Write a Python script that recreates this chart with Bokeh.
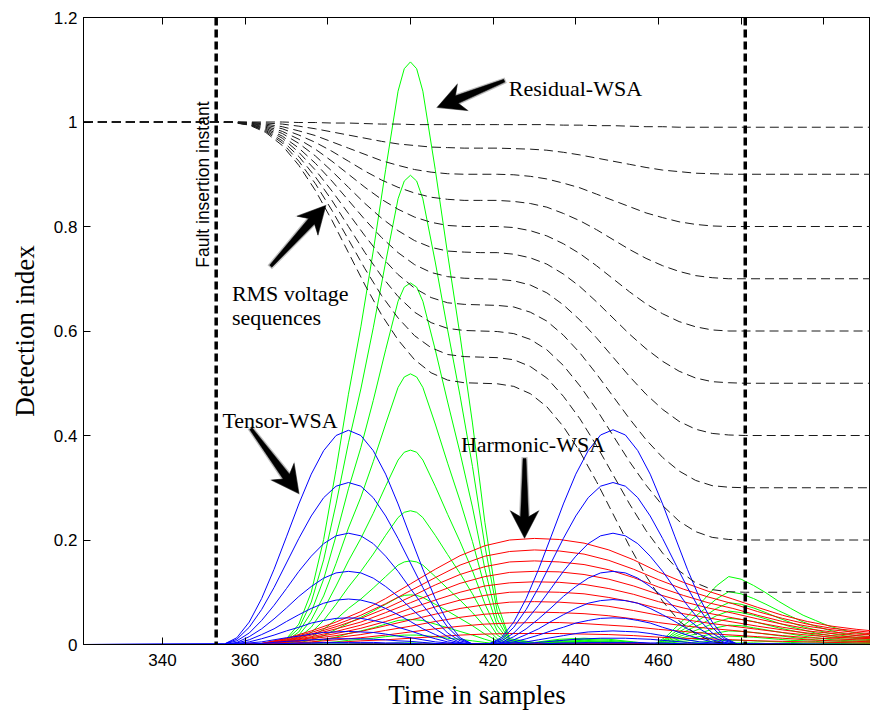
import math

from bokeh.embed import file_html
from bokeh.models import FixedTicker, Label, LinearAxis, NumeralTickFormatter, Range1d, Span
from bokeh.plotting import figure
from bokeh.resources import INLINE

# ---------------------------------------------------------------------------
# Sample axis and event instants
# ---------------------------------------------------------------------------
fault_start = 353
fault_window_end = 481

x_ticks = [340, 360, 380, 400, 420, 440, 460, 480, 500]
y_ticks = [0, 0.2, 0.4, 0.6, 0.8, 1.0, 1.2]

# ---------------------------------------------------------------------------
# RMS voltage sequences (one per sag depth)
# ---------------------------------------------------------------------------
t_rms = [321, 353, 357, 361, 365, 369, 373, 377, 381, 385, 389, 393, 397, 401,
         405, 409, 413, 417, 421, 425, 429, 433, 437, 441, 445, 449, 453, 457,
         461, 465, 469, 473, 477, 481, 512]

rms_099 = [1.0, 1.0, 1.0, 1.0, 1.0, 1.0, 0.999, 0.999, 0.998, 0.998, 0.997, 0.996,
           0.996, 0.995, 0.995, 0.995, 0.995, 0.995, 0.995, 0.995, 0.995, 0.995,
           0.994, 0.994, 0.993, 0.993, 0.992, 0.991, 0.991, 0.99, 0.99, 0.99, 0.99,
           0.99, 0.99]
rms_090 = [1.0, 1.0, 1.0, 0.999, 0.998, 0.996, 0.992, 0.987, 0.981, 0.975, 0.969,
           0.963, 0.958, 0.955, 0.952, 0.951, 0.95, 0.95, 0.95, 0.949, 0.948, 0.946,
           0.942, 0.937, 0.931, 0.925, 0.919, 0.913, 0.908, 0.905, 0.902, 0.901,
           0.9, 0.9, 0.9]
rms_080 = [1.0, 1.0, 1.0, 0.999, 0.996, 0.991, 0.983, 0.974, 0.962, 0.95, 0.938,
           0.926, 0.917, 0.909, 0.904, 0.901, 0.9, 0.9, 0.9, 0.899, 0.896, 0.891,
           0.883, 0.874, 0.862, 0.85, 0.838, 0.826, 0.817, 0.809, 0.804, 0.801,
           0.8, 0.8, 0.8]
rms_070 = [1.0, 1.0, 1.0, 0.998, 0.994, 0.987, 0.975, 0.961, 0.944, 0.925, 0.906,
           0.889, 0.875, 0.864, 0.856, 0.852, 0.85, 0.85, 0.85, 0.848, 0.844, 0.837,
           0.825, 0.811, 0.794, 0.775, 0.756, 0.739, 0.725, 0.714, 0.706, 0.702,
           0.7, 0.7, 0.7]
rms_060 = [1.0, 1.0, 1.0, 0.998, 0.992, 0.982, 0.967, 0.948, 0.925, 0.9, 0.875,
           0.852, 0.833, 0.818, 0.808, 0.802, 0.8, 0.8, 0.8, 0.798, 0.792, 0.782,
           0.767, 0.748, 0.725, 0.7, 0.675, 0.652, 0.633, 0.618, 0.608, 0.602,
           0.6, 0.6, 0.6]
rms_050 = [1.0, 1.0, 1.0, 0.997, 0.99, 0.978, 0.959, 0.935, 0.906, 0.875, 0.844,
           0.816, 0.792, 0.773, 0.76, 0.753, 0.751, 0.75, 0.75, 0.747, 0.74, 0.728,
           0.709, 0.685, 0.656, 0.625, 0.594, 0.566, 0.542, 0.523, 0.51, 0.503,
           0.501, 0.5, 0.5]
rms_040 = [1.0, 1.0, 0.999, 0.996, 0.988, 0.973, 0.95, 0.921, 0.887, 0.85, 0.813,
           0.779, 0.75, 0.727, 0.712, 0.704, 0.701, 0.7, 0.699, 0.696, 0.688, 0.673,
           0.65, 0.621, 0.587, 0.55, 0.513, 0.479, 0.45, 0.427, 0.412, 0.404,
           0.401, 0.4, 0.4]
rms_030 = [1.0, 1.0, 0.999, 0.996, 0.986, 0.969, 0.942, 0.908, 0.868, 0.825, 0.782,
           0.742, 0.708, 0.682, 0.664, 0.654, 0.651, 0.65, 0.649, 0.646, 0.636,
           0.619, 0.592, 0.558, 0.518, 0.475, 0.432, 0.392, 0.358, 0.332, 0.314,
           0.304, 0.301, 0.3, 0.3]
rms_020 = [1.0, 1.0, 0.999, 0.995, 0.984, 0.964, 0.934, 0.895, 0.85, 0.8, 0.75,
           0.705, 0.666, 0.636, 0.616, 0.605, 0.601, 0.6, 0.599, 0.595, 0.584,
           0.564, 0.534, 0.495, 0.45, 0.4, 0.35, 0.305, 0.266, 0.236, 0.216,
           0.205, 0.201, 0.2, 0.2]
rms_010 = [1.0, 1.0, 0.999, 0.995, 0.982, 0.96, 0.925, 0.882, 0.831, 0.775, 0.719,
           0.668, 0.625, 0.591, 0.568, 0.555, 0.551, 0.55, 0.549, 0.545, 0.532,
           0.51, 0.475, 0.432, 0.381, 0.325, 0.269, 0.218, 0.175, 0.141, 0.118,
           0.105, 0.101, 0.1, 0.1]
rms_000 = [1.0, 1.0, 0.999, 0.994, 0.98, 0.955, 0.917, 0.869, 0.812, 0.75, 0.688,
           0.631, 0.583, 0.545, 0.52, 0.506, 0.501, 0.5, 0.499, 0.494, 0.48, 0.455,
           0.417, 0.369, 0.312, 0.25, 0.188, 0.131, 0.083, 0.045, 0.02, 0.006,
           0.001, 0.0, 0.0]

rms_curves = [rms_099, rms_090, rms_080, rms_070, rms_060, rms_050,
              rms_040, rms_030, rms_020, rms_010, rms_000]

# ---------------------------------------------------------------------------
# Tensor-WSA detection index (two lobes per sag depth)
# ---------------------------------------------------------------------------
t_tensor = [321, 355, 358, 361, 364, 367, 370, 373, 376, 379, 382, 385, 388, 391,
            394, 397, 400, 403, 406, 409, 412, 415, 419, 422, 425, 428, 431, 434,
            437, 440, 443, 446, 449, 452, 455, 458, 461, 464, 467, 470, 473, 476,
            479, 512]

tensor_1 = [0.0,
            0.001, 0.013, 0.043, 0.088, 0.144, 0.206, 0.269, 0.326, 0.371, 0.4, 0.41,
            0.4, 0.371, 0.326, 0.269, 0.206, 0.144, 0.088, 0.043, 0.013, 0.001,
            0.001, 0.013, 0.043, 0.088, 0.144, 0.206, 0.269, 0.326, 0.371, 0.401, 0.411,
            0.401, 0.371, 0.326, 0.269, 0.206, 0.144, 0.088, 0.043, 0.013, 0.001,
            0.0]
tensor_2 = [0.0,
            0.001, 0.01, 0.033, 0.067, 0.109, 0.156, 0.203, 0.246, 0.281, 0.303, 0.31,
            0.303, 0.281, 0.246, 0.203, 0.156, 0.109, 0.067, 0.033, 0.01, 0.001,
            0.001, 0.01, 0.033, 0.067, 0.109, 0.156, 0.203, 0.246, 0.281, 0.303, 0.31,
            0.303, 0.281, 0.246, 0.203, 0.156, 0.109, 0.067, 0.033, 0.01, 0.001,
            0.0]
tensor_3 = [0.0,
            0.001, 0.007, 0.022, 0.046, 0.075, 0.107, 0.14, 0.169, 0.193, 0.208, 0.213,
            0.208, 0.193, 0.169, 0.14, 0.107, 0.075, 0.046, 0.022, 0.007, 0.001,
            0.001, 0.007, 0.022, 0.046, 0.075, 0.107, 0.14, 0.169, 0.193, 0.208, 0.213,
            0.208, 0.193, 0.169, 0.14, 0.107, 0.075, 0.046, 0.022, 0.007, 0.001,
            0.0]
tensor_4 = [0.0,
            0.0, 0.004, 0.015, 0.03, 0.049, 0.07, 0.092, 0.111, 0.127, 0.137, 0.14,
            0.137, 0.127, 0.111, 0.092, 0.07, 0.049, 0.03, 0.015, 0.004, 0.0,
            0.0, 0.004, 0.015, 0.03, 0.049, 0.07, 0.092, 0.111, 0.127, 0.137, 0.14,
            0.137, 0.127, 0.111, 0.092, 0.07, 0.049, 0.03, 0.015, 0.004, 0.0,
            0.0]
tensor_5 = [0.0,
            0.0, 0.003, 0.009, 0.019, 0.03, 0.044, 0.057, 0.069, 0.079, 0.085, 0.087,
            0.085, 0.079, 0.069, 0.057, 0.044, 0.03, 0.019, 0.009, 0.003, 0.0,
            0.0, 0.003, 0.009, 0.019, 0.03, 0.044, 0.057, 0.069, 0.079, 0.084, 0.086,
            0.084, 0.079, 0.069, 0.057, 0.044, 0.03, 0.019, 0.009, 0.003, 0.0,
            0.0]
tensor_6 = [0.0,
            0.0, 0.002, 0.005, 0.011, 0.018, 0.026, 0.033, 0.041, 0.046, 0.05, 0.051,
            0.05, 0.046, 0.041, 0.033, 0.026, 0.018, 0.011, 0.005, 0.002, 0.0,
            0.0, 0.002, 0.005, 0.011, 0.018, 0.026, 0.033, 0.041, 0.046, 0.05, 0.051,
            0.05, 0.046, 0.041, 0.033, 0.026, 0.018, 0.011, 0.005, 0.002, 0.0,
            0.0]
tensor_7 = [0.0,
            0.0, 0.001, 0.003, 0.005, 0.009, 0.013, 0.016, 0.02, 0.023, 0.024, 0.025,
            0.024, 0.023, 0.02, 0.016, 0.013, 0.009, 0.005, 0.003, 0.001, 0.0,
            0.0, 0.001, 0.003, 0.005, 0.009, 0.013, 0.017, 0.021, 0.024, 0.025, 0.026,
            0.025, 0.024, 0.021, 0.017, 0.013, 0.009, 0.005, 0.003, 0.001, 0.0,
            0.0]
tensor_8 = [0.0,
            0.0, 0.0, 0.001, 0.002, 0.004, 0.006, 0.007, 0.009, 0.01, 0.011, 0.011,
            0.011, 0.01, 0.009, 0.007, 0.006, 0.004, 0.002, 0.001, 0.0, 0.0,
            0.0, 0.0, 0.001, 0.002, 0.004, 0.006, 0.008, 0.01, 0.011, 0.012, 0.012,
            0.012, 0.011, 0.01, 0.008, 0.006, 0.004, 0.002, 0.001, 0.0, 0.0,
            0.0]
tensor_9 = [0.0,
            0.0, 0.0, 0.0, 0.001, 0.001, 0.002, 0.003, 0.003, 0.004, 0.004, 0.004,
            0.004, 0.004, 0.003, 0.003, 0.002, 0.001, 0.001, 0.0, 0.0, 0.0,
            0.0, 0.0, 0.0, 0.001, 0.001, 0.002, 0.003, 0.003, 0.004, 0.004, 0.004,
            0.004, 0.004, 0.003, 0.003, 0.002, 0.001, 0.001, 0.0, 0.0, 0.0,
            0.0]
tensor_10 = [0.0,
             0.0, 0.0, 0.0, 0.0, 0.0, 0.001, 0.001, 0.001, 0.001, 0.001, 0.001,
             0.001, 0.001, 0.001, 0.001, 0.001, 0.0, 0.0, 0.0, 0.0, 0.0,
             0.0, 0.0, 0.0, 0.0, 0.0, 0.001, 0.001, 0.001, 0.001, 0.001, 0.001,
             0.001, 0.001, 0.001, 0.001, 0.001, 0.0, 0.0, 0.0, 0.0, 0.0,
             0.0]

tensor_curves = [tensor_1, tensor_2, tensor_3, tensor_4, tensor_5,
                 tensor_6, tensor_7, tensor_8, tensor_9, tensor_10]

# ---------------------------------------------------------------------------
# Residual-WSA detection index
# ---------------------------------------------------------------------------
t_residual = [321, 364, 367, 370, 373, 376, 379, 382, 385, 388, 391, 394, 397, 398.5,
              400, 401.5, 403, 406, 409, 412, 415, 418, 421, 424, 430, 436, 442, 448,
              454, 459, 462, 465, 468, 471, 474, 477, 480, 483, 486, 489, 492, 495,
              498, 501, 504, 507, 510, 512]

residual_1 = [0.0, 0.0, 0.0,
              0.011, 0.039, 0.1, 0.201, 0.335, 0.479, 0.608, 0.753, 0.909, 1.059, 1.102,
              1.115, 1.102,
              1.059, 0.909, 0.747, 0.591, 0.424, 0.234, 0.078, 0.011,
              0.004, 0.01, 0.012, 0.01, 0.005,
              0.0, 0.016, 0.039, 0.062, 0.086, 0.112, 0.13, 0.125, 0.113, 0.099, 0.083,
              0.069, 0.056, 0.046, 0.036, 0.029, 0.023, 0.02, 0.018]
residual_2 = [0.0, 0.0, 0.0,
              0.009, 0.031, 0.081, 0.162, 0.269, 0.386, 0.489, 0.606, 0.732, 0.853, 0.887,
              0.898, 0.887,
              0.853, 0.732, 0.602, 0.476, 0.341, 0.189, 0.063, 0.009,
              0.003, 0.008, 0.01, 0.008, 0.004,
              0.0, 0.012, 0.03, 0.048, 0.067, 0.087, 0.101, 0.097, 0.088, 0.077, 0.065,
              0.054, 0.043, 0.035, 0.028, 0.022, 0.018, 0.015, 0.014]
residual_3 = [0.0, 0.0, 0.0,
              0.007, 0.024, 0.062, 0.125, 0.208, 0.298, 0.377, 0.467, 0.564, 0.657, 0.684,
              0.692, 0.684,
              0.657, 0.564, 0.464, 0.367, 0.263, 0.145, 0.048, 0.007,
              0.002, 0.006, 0.008, 0.006, 0.003,
              0.0, 0.01, 0.024, 0.038, 0.053, 0.069, 0.08, 0.077, 0.07, 0.061, 0.051,
              0.042, 0.034, 0.028, 0.022, 0.018, 0.014, 0.012, 0.011]
residual_4 = [0.0, 0.0, 0.0,
              0.005, 0.018, 0.047, 0.093, 0.155, 0.223, 0.282, 0.35, 0.422, 0.492, 0.512,
              0.518, 0.512,
              0.492, 0.422, 0.347, 0.275, 0.197, 0.109, 0.036, 0.005,
              0.002, 0.005, 0.006, 0.005, 0.002,
              0.0, 0.008, 0.019, 0.031, 0.042, 0.055, 0.064, 0.061, 0.056, 0.049, 0.041,
              0.034, 0.028, 0.022, 0.018, 0.014, 0.012, 0.01, 0.009]
residual_5 = [0.0, 0.0, 0.0,
              0.004, 0.013, 0.033, 0.067, 0.112, 0.16, 0.203, 0.251, 0.303, 0.353, 0.368,
              0.372, 0.368,
              0.353, 0.303, 0.249, 0.197, 0.141, 0.078, 0.026, 0.004,
              0.002, 0.004, 0.005, 0.004, 0.002,
              0.0, 0.006, 0.015, 0.024, 0.033, 0.043, 0.05, 0.048, 0.044, 0.038, 0.032,
              0.027, 0.022, 0.018, 0.014, 0.011, 0.009, 0.008, 0.007]
residual_6 = [0.0, 0.0, 0.0,
              0.003, 0.009, 0.023, 0.046, 0.077, 0.11, 0.14, 0.173, 0.209, 0.243, 0.253,
              0.256, 0.253,
              0.243, 0.209, 0.172, 0.136, 0.097, 0.054, 0.018, 0.003,
              0.001, 0.003, 0.004, 0.003, 0.002,
              0.0, 0.004, 0.011, 0.018, 0.024, 0.032, 0.037, 0.036, 0.032, 0.028, 0.024,
              0.02, 0.016, 0.013, 0.01, 0.008, 0.007, 0.006, 0.005]
residual_7 = [0.0, 0.0, 0.0,
              0.002, 0.006, 0.014, 0.029, 0.048, 0.069, 0.087, 0.108, 0.13, 0.152, 0.158,
              0.16, 0.158,
              0.152, 0.13, 0.107, 0.085, 0.061, 0.034, 0.011, 0.002,
              0.001, 0.002, 0.003, 0.002, 0.001,
              0.0, 0.003, 0.008, 0.012, 0.017, 0.022, 0.026, 0.025, 0.023, 0.02, 0.017,
              0.014, 0.011, 0.009, 0.007, 0.006, 0.005, 0.004, 0.004]
residual_8 = [0.0, 0.0, 0.0,
              0.001, 0.003, 0.009, 0.017, 0.029, 0.041, 0.052, 0.064, 0.077, 0.09, 0.094,
              0.095, 0.094,
              0.09, 0.077, 0.064, 0.05, 0.036, 0.02, 0.007, 0.001,
              0.001, 0.002, 0.002, 0.002, 0.001,
              0.0, 0.002, 0.005, 0.008, 0.011, 0.014, 0.016, 0.015, 0.014, 0.012, 0.01,
              0.008, 0.007, 0.006, 0.004, 0.004, 0.003, 0.002, 0.002]
residual_9 = [0.0, 0.0, 0.0,
              0.0, 0.002, 0.004, 0.009, 0.014, 0.021, 0.026, 0.032, 0.039, 0.046, 0.047,
              0.048, 0.047,
              0.046, 0.039, 0.032, 0.025, 0.018, 0.01, 0.003, 0.0,
              0.0, 0.001, 0.001, 0.001, 0.0,
              0.0, 0.001, 0.002, 0.004, 0.005, 0.007, 0.008, 0.008, 0.007, 0.006, 0.005,
              0.004, 0.003, 0.003, 0.002, 0.002, 0.001, 0.001, 0.001]
residual_10 = [0.0, 0.0, 0.0,
               0.0, 0.001, 0.002, 0.003, 0.005, 0.008, 0.01, 0.012, 0.015, 0.017, 0.018,
               0.018, 0.018,
               0.017, 0.015, 0.012, 0.01, 0.007, 0.004, 0.001, 0.0,
               0.0, 0.0, 0.001, 0.0, 0.0,
               0.0, 0.0, 0.001, 0.001, 0.002, 0.003, 0.003, 0.003, 0.003, 0.002, 0.002,
               0.002, 0.001, 0.001, 0.001, 0.001, 0.001, 0.0, 0.0]
residual_11 = [0.0, 0.0, 0.0,
               0.0, 0.0, 0.0, 0.001, 0.001, 0.001, 0.002, 0.002, 0.002, 0.003, 0.003,
               0.003, 0.003,
               0.003, 0.002, 0.002, 0.002, 0.001, 0.001, 0.0, 0.0,
               0.0, 0.0, 0.0, 0.0, 0.0,
               0.0, 0.0, 0.0, 0.0, 0.0, 0.001, 0.001, 0.001, 0.001, 0.0, 0.0,
               0.0, 0.0, 0.0, 0.0, 0.0, 0.0, 0.0, 0.0]

residual_curves = [residual_1, residual_2, residual_3, residual_4, residual_5, residual_6,
                   residual_7, residual_8, residual_9, residual_10, residual_11]

# ---------------------------------------------------------------------------
# Harmonic-WSA detection index
# ---------------------------------------------------------------------------
t_harmonic = [321, 358, 364, 370, 376, 382, 388, 394, 400, 406, 412, 418, 424, 430,
              436, 442, 448, 454, 460, 466, 472, 478, 484, 490, 496, 502, 508, 512]

harmonic_1 = [0.0, 0.0, 0.002, 0.012, 0.026, 0.043, 0.063, 0.088, 0.116, 0.144, 0.17,
              0.189, 0.2, 0.203, 0.201, 0.194, 0.181, 0.162, 0.139, 0.119, 0.102,
              0.087, 0.071, 0.056, 0.044, 0.035, 0.029, 0.026]
harmonic_2 = [0.0, 0.0, 0.002, 0.011, 0.023, 0.038, 0.056, 0.078, 0.103, 0.128, 0.152,
              0.169, 0.178, 0.181, 0.179, 0.173, 0.161, 0.144, 0.124, 0.106, 0.091,
              0.078, 0.063, 0.05, 0.039, 0.031, 0.026, 0.023]
harmonic_3 = [0.0, 0.0, 0.002, 0.009, 0.02, 0.034, 0.05, 0.069, 0.091, 0.114, 0.134,
              0.149, 0.158, 0.16, 0.158, 0.153, 0.143, 0.128, 0.11, 0.094, 0.08,
              0.069, 0.056, 0.044, 0.035, 0.028, 0.023, 0.02]
harmonic_4 = [0.0, 0.0, 0.001, 0.008, 0.018, 0.03, 0.043, 0.061, 0.08, 0.099, 0.117,
              0.13, 0.138, 0.14, 0.139, 0.134, 0.125, 0.112, 0.096, 0.082, 0.07,
              0.06, 0.049, 0.039, 0.03, 0.024, 0.02, 0.018]
harmonic_5 = [0.0, 0.0, 0.001, 0.007, 0.015, 0.025, 0.037, 0.052, 0.069, 0.085, 0.1,
              0.112, 0.118, 0.12, 0.119, 0.115, 0.107, 0.096, 0.082, 0.07, 0.06,
              0.051, 0.042, 0.033, 0.026, 0.021, 0.017, 0.015]
harmonic_6 = [0.0, 0.0, 0.001, 0.006, 0.013, 0.021, 0.031, 0.044, 0.058, 0.072, 0.085,
              0.094, 0.1, 0.101, 0.1, 0.097, 0.09, 0.081, 0.069, 0.059, 0.051,
              0.043, 0.035, 0.028, 0.022, 0.017, 0.014, 0.013]
harmonic_7 = [0.0, 0.0, 0.001, 0.005, 0.011, 0.017, 0.025, 0.036, 0.047, 0.058, 0.069,
              0.076, 0.081, 0.082, 0.081, 0.078, 0.073, 0.065, 0.056, 0.048, 0.041,
              0.035, 0.029, 0.023, 0.018, 0.014, 0.012, 0.011]
harmonic_8 = [0.0, 0.0, 0.001, 0.004, 0.008, 0.013, 0.019, 0.027, 0.035, 0.044, 0.052,
              0.058, 0.061, 0.062, 0.061, 0.059, 0.055, 0.049, 0.042, 0.036, 0.031,
              0.027, 0.022, 0.017, 0.013, 0.011, 0.009, 0.008]
harmonic_9 = [0.0, 0.0, 0.0, 0.002, 0.005, 0.009, 0.013, 0.018, 0.024, 0.03, 0.035,
              0.039, 0.041, 0.042, 0.042, 0.04, 0.037, 0.034, 0.029, 0.025, 0.021,
              0.018, 0.015, 0.012, 0.009, 0.007, 0.006, 0.005]
harmonic_10 = [0.0, 0.0, 0.0, 0.001, 0.003, 0.004, 0.007, 0.009, 0.012, 0.015, 0.018,
               0.02, 0.021, 0.021, 0.021, 0.02, 0.019, 0.017, 0.014, 0.012, 0.011,
               0.009, 0.007, 0.006, 0.005, 0.004, 0.003, 0.003]
harmonic_11 = [0.0, 0.0, 0.0, 0.0, 0.0, 0.0, 0.001, 0.001, 0.001, 0.001, 0.002,
               0.002, 0.002, 0.002, 0.002, 0.002, 0.002, 0.002, 0.001, 0.001, 0.001,
               0.001, 0.001, 0.001, 0.0, 0.0, 0.0, 0.0]

harmonic_curves = [harmonic_1, harmonic_2, harmonic_3, harmonic_4, harmonic_5, harmonic_6,
                   harmonic_7, harmonic_8, harmonic_9, harmonic_10, harmonic_11]

# ---------------------------------------------------------------------------
# Annotation anchors (data units)
# ---------------------------------------------------------------------------
note_text = ["Residual-WSA", "Tensor-WSA", "Harmonic-WSA", "RMS voltage", "sequences"]
note_x = [423.8, 354.5, 412.2, 356.8, 356.8]
note_y = [1.065, 0.428, 0.3835, 0.671, 0.626]

arrow_tail_x = [422.7, 366.2, 361.4, 427.6]
arrow_tail_y = [1.079, 0.724, 0.413, 0.356]
arrow_tip_x = [406.5, 379.5, 373.0, 427.6]
arrow_tip_y = [1.028, 0.840, 0.289, 0.204]

fault_label = "Fault insertion instant"
fault_label_x = 349.9
fault_label_y = 0.721

for grid, family in ((t_rms, rms_curves), (t_tensor, tensor_curves),
                     (t_residual, residual_curves), (t_harmonic, harmonic_curves)):
    for curve in family:
        assert len(curve) == len(grid), (len(curve), len(grid))

# ---------------------------------------------------------------------------
# Figure
# ---------------------------------------------------------------------------
W, H = 870, 718
LEFT, RIGHT, TOP, BOTTOM = 83, 0, 17, 74
X0, X1 = 320.9, 511.3
Y0, Y1 = 0.0, 1.2

p = figure(width=W, height=H, x_range=Range1d(X0, X1), y_range=Range1d(Y0, Y1),
           output_backend="svg", toolbar_location=None,
           min_border_left=LEFT, min_border_right=RIGHT,
           min_border_top=TOP, min_border_bottom=BOTTOM,
           background_fill_color="white", border_fill_color="white")
p.xgrid.visible = False
p.ygrid.visible = False
p.outline_line_color = "black"
p.outline_line_width = 1

TICK_FONT = "Liberation Sans"
SERIF = "Liberation Serif"


def style_axis(ax):
    ax.axis_line_color = "black"
    ax.axis_line_width = 1
    ax.major_tick_line_color = "black"
    ax.major_tick_in = 7
    ax.major_tick_out = 0
    ax.minor_tick_in = 0
    ax.minor_tick_out = 0
    ax.minor_tick_line_color = None
    ax.major_label_text_font = TICK_FONT
    ax.major_label_text_font_size = "17px"
    ax.major_label_text_color = "black"
    ax.axis_label_text_font = SERIF
    ax.axis_label_text_font_size = "27px"
    ax.axis_label_text_font_style = "normal"
    ax.axis_label_text_color = "black"


xaxis = p.xaxis[0]
yaxis = p.yaxis[0]
style_axis(xaxis)
style_axis(yaxis)
xaxis.ticker = FixedTicker(ticks=x_ticks)
yaxis.ticker = FixedTicker(ticks=y_ticks)
yaxis.formatter = NumeralTickFormatter(format="0.[0]")
xaxis.axis_label = "Time in samples"
yaxis.axis_label = "Detection index"
xaxis.major_label_standoff = 9
yaxis.major_label_standoff = 6
xaxis.axis_label_standoff = 11
yaxis.axis_label_standoff = 11

# Box top edge with inward ticks only
top_axis = LinearAxis(ticker=FixedTicker(ticks=x_ticks))
style_axis(top_axis)
top_axis.major_label_text_color = None
top_axis.major_label_text_font_size = "1px"
top_axis.major_label_standoff = 0
p.add_layout(top_axis, "above")

# Detection-index families
p.multi_line(xs=[t_residual] * len(residual_curves), ys=residual_curves,
             line_color="#00ff00", line_width=1)
p.multi_line(xs=[t_harmonic] * len(harmonic_curves), ys=harmonic_curves,
             line_color="#ff0000", line_width=1)
p.multi_line(xs=[t_tensor] * len(tensor_curves), ys=tensor_curves,
             line_color="#0000ff", line_width=1)

# RMS voltage sequences
p.multi_line(xs=[t_rms] * len(rms_curves), ys=rms_curves,
             line_color="#1a1a1a", line_width=1, line_dash="9 5")

# Fault insertion instant and end of the first post-fault cycle
for loc in (fault_start, fault_window_end):
    p.add_layout(Span(location=loc, dimension="height", line_color="black",
                      line_width=3.5, line_dash="8 4"))

# Arrows, built in screen proportions and mapped back to data units
sx = (W - LEFT - RIGHT) / (X1 - X0)
sy = (H - TOP - BOTTOM) / (Y1 - Y0)


def arrow_shape(x_tail, y_tail, x_tip, y_tip, head_len=27.0, head_w=28.0,
                neck_w=8.0, tail_w=3.0, grow=0.0):
    ax_, ay_ = x_tail * sx, y_tail * sy
    bx_, by_ = x_tip * sx, y_tip * sy
    dx, dy = bx_ - ax_, by_ - ay_
    length = math.hypot(dx, dy)
    ux, uy = dx / length, dy / length
    nx, ny = -uy, ux
    hl = head_len + grow
    hw = head_w / 2 + grow
    nw = neck_w / 2 + grow
    tw = tail_w / 2 + grow
    tipx, tipy = bx_ + ux * grow, by_ + uy * grow
    nkx, nky = bx_ - ux * hl * 0.78, by_ - uy * hl * 0.78
    brx, bry = bx_ - ux * hl, by_ - uy * hl
    tlx, tly = ax_ - ux * grow, ay_ - uy * grow
    pts = [(tlx + nx * tw, tly + ny * tw),
           (nkx + nx * nw, nky + ny * nw),
           (brx + nx * hw, bry + ny * hw),
           (tipx, tipy),
           (brx - nx * hw, bry - ny * hw),
           (nkx - nx * nw, nky - ny * nw),
           (tlx - nx * tw, tly - ny * tw)]
    return [q[0] / sx for q in pts], [q[1] / sy for q in pts]


halo_xs, halo_ys, body_xs, body_ys = [], [], [], []
for xt, yt, xh, yh in zip(arrow_tail_x, arrow_tail_y, arrow_tip_x, arrow_tip_y):
    hx, hy = arrow_shape(xt, yt, xh, yh, grow=1.5)
    halo_xs.append(hx)
    halo_ys.append(hy)
    bx, by = arrow_shape(xt, yt, xh, yh)
    body_xs.append(bx)
    body_ys.append(by)

p.patches(xs=halo_xs, ys=halo_ys, fill_color="black", fill_alpha=0.25, line_color=None)
p.patches(xs=body_xs, ys=body_ys, fill_color="black", line_color="black", line_width=0.5)

# Text annotations
for txt, tx, ty in zip(note_text, note_x, note_y):
    p.add_layout(Label(x=tx, y=ty, text=txt, text_font=SERIF, text_font_size="22px",
                       text_color="black", text_baseline="alphabetic", text_align="left"))

p.add_layout(Label(x=fault_label_x, y=fault_label_y, text=fault_label, angle=math.pi / 2,
                   angle_units="rad", text_font=TICK_FONT, text_font_size="17.5px",
                   text_color="black", text_baseline="alphabetic", text_align="left"))

open("out.html", "w").write(file_html(p, INLINE))
